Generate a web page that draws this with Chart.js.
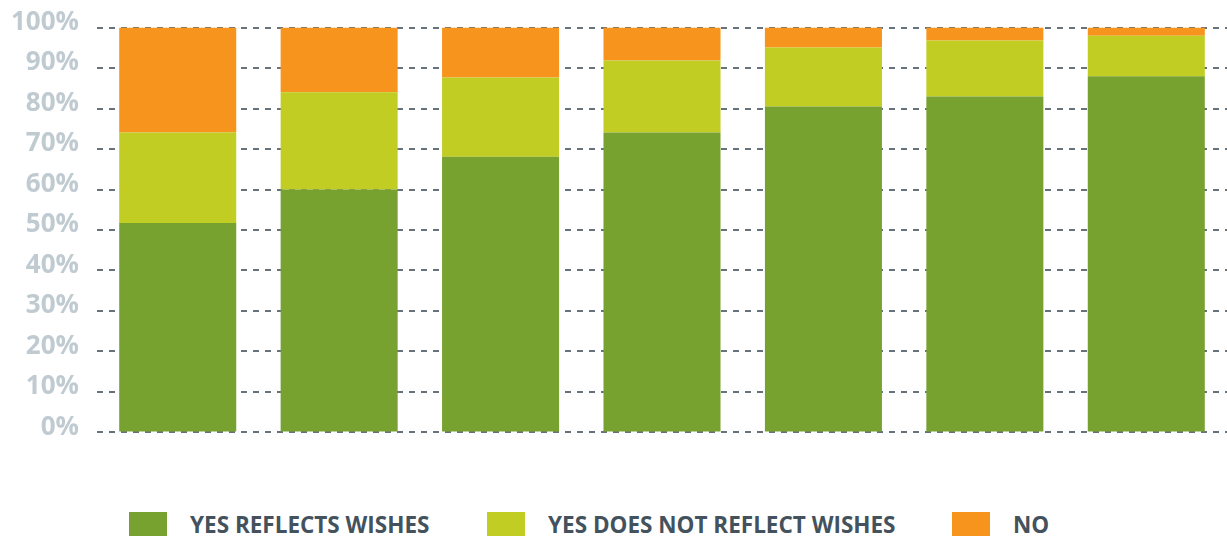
<!DOCTYPE html>
<html>
<head>
<meta charset="utf-8">
<script src="https://cdn.jsdelivr.net/npm/chart.js@4/dist/chart.umd.min.js"></script>
<style>
  html, body { margin: 0; padding: 0; background: #fff; overflow: hidden; }
  .wrap { position: relative; width: 1227px; height: 536px; overflow: hidden; }
  .chart-box { position: absolute; left: 0; top: -6px; width: 1227px; height: 472px; }
  #legend { position: absolute; left: 0; top: 509px; width: 1227px; height: 28px; }
  #legend ul { list-style: none; margin: 0; padding: 0; }
  #legend li { display: flex; align-items: center; position: absolute; top: 0; }
  #legend .box { width: 38px; height: 25px; margin-right: 23px; }
  #legend .txt { font-family: "Open Sans", sans-serif; font-weight: 700; font-size: 22.5px; color: #43525d; white-space: nowrap; }
</style>
</head>
<body>
<div class="wrap">
  <div class="chart-box"><canvas id="chart"></canvas></div>
  <div id="legend"></div>
</div>
<script>
// データ
const categories = ['1', '2', '3', '4', '5', '6', '7'];
const seriesNames = ['YES REFLECTS WISHES', 'YES DOES NOT REFLECT WISHES', 'NO'];
const yesReflects = [51.7, 60.0, 68.1, 74.1, 80.5, 83.0, 88.0];
const yesNotReflects = [22.4, 24.0, 19.6, 17.8, 14.6, 13.8, 10.0];
const noValues = [25.9, 16.0, 12.3, 8.1, 4.9, 3.2, 2.0];
const tickValues = [0, 10, 20, 30, 40, 50, 60, 70, 80, 90, 100];
const colors = ['#78a22f', '#c1cd23', '#f7941d'];

// 凡例の位置 (左端)
const legendLeft = [129, 487, 952];

/* =============================
 * HTML凡例
 * ===========================*/
const htmlLegend = {
  id: 'htmlLegend',
  afterUpdate(chart) {
    const el = document.getElementById('legend');
    el.innerHTML = '';
    const ul = document.createElement('ul');
    chart.data.datasets.forEach((ds, i) => {
      const li = document.createElement('li');
      li.style.left = legendLeft[i] + 'px';
      const box = document.createElement('span');
      box.className = 'box';
      box.style.background = ds.backgroundColor;
      const txt = document.createElement('span');
      txt.className = 'txt';
      txt.textContent = ds.label;
      li.appendChild(box);
      li.appendChild(txt);
      ul.appendChild(li);
    });
    el.appendChild(ul);
  }
};

const seriesData = [yesReflects, yesNotReflects, noValues];

new Chart(document.getElementById('chart'), {
  type: 'bar',
  data: {
    labels: categories,
    datasets: seriesData.map((d, i) => ({
      label: seriesNames[i],
      data: d,
      backgroundColor: colors[i],
      borderWidth: 0,
      barPercentage: 0.725,
      categoryPercentage: 1
    }))
  },
  options: {
    responsive: true,
    maintainAspectRatio: false,
    animation: false,
    layout: { padding: { top: 8, right: 0, bottom: 14, left: 0 } },
    plugins: {
      legend: { display: false },
      tooltip: { enabled: false }
    },
    scales: {
      x: {
        stacked: true,
        display: false
      },
      y: {
        stacked: true,
        min: 0,
        max: 100,
        afterBuildTicks(axis) {
          axis.ticks = tickValues.map(v => ({ value: v }));
        },
        // 軸幅を固定して左端を合わせる
        afterFit(axis) {
          axis.width = 97;
        },
        grid: {
          color: '#66737c',
          lineWidth: 2,
          drawTicks: false
        },
        border: { display: false, dash: [6, 6] },
        ticks: {
          padding: 18,
          labelOffset: -5,
          color: '#bfcad1',
          font: { family: 'Open Sans', weight: 'bold', size: 26 },
          callback: v => v + '%'
        }
      }
    }
  },
  plugins: [htmlLegend]
});
</script>
</body>
</html>
